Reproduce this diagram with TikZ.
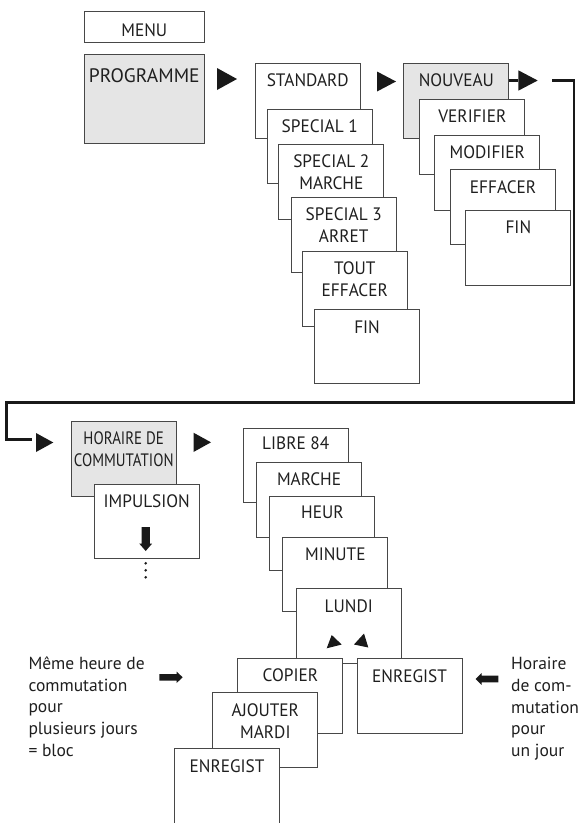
\documentclass[tikz,border=0pt]{standalone}
\usepackage{fontspec}
\setmainfont{PT Sans}
\newfontfamily\labfont[FakeStretch=0.96]{PT Sans}
\newfontfamily\condlabfont[FakeStretch=0.83]{PT Sans}
\begin{document}
\begin{tikzpicture}[x=1pt,y=-1pt,
  box/.style={draw=black!72, line width=1.1pt, fill=white, rectangle, inner sep=0pt, anchor=north west, minimum width=105pt, minimum height=74.5pt},
  graybox/.style={box, fill=black!10},
  lab/.style={inner sep=0pt, anchor=north, align=center, text=black!88, font=\labfont\fontsize{18}{22}\selectfont},
  free/.style={inner sep=0pt, anchor=north west, align=left, text=black!88, font=\fontsize{17.5}{21.7}\selectfont},
  tri/.style={fill=black!90},
  loopline/.style={line width=2.6pt, draw=black!90},
]
\useasboundingbox (0,0) rectangle (579,823);
\clip (0,0) rectangle (579,823);

% MENU / PROGRAMME
\node[box, minimum width=120.5pt, minimum height=31pt] (menu) at (83.5,11) {};
\node[lab, anchor=center] (menut) at ([yshift=-3]menu.center) {MENU};
\node[graybox, minimum width=120.5pt, minimum height=89pt] (prog) at (83.5,54) {};
\node[lab, font=\fontsize{19.5}{22}\selectfont] (progt) at ([yshift=-14.2]prog.north) {PROGRAMME};
\fill[tri] (217,68) -- (217,90) -- (237,79) -- cycle;

% standard stack
\node[box] (std) at (254.7,63.3) {};
\node[lab] (stdt) at ([yshift=-10.6]std.north) {STANDARD};
\node[box] (spa) at (266.7,108.7) {};
\node[lab] (spat) at ([yshift=-10.4]spa.north) {SPECIAL 1};
\node[box] (spb) at (278.3,144.3) {};
\node[lab] (spbt) at ([yshift=-10]spb.north) {SPECIAL 2\\MARCHE};
\node[box] (spc) at (290.7,197.3) {};
\node[lab] (spct) at ([yshift=-10.4]spc.north) {SPECIAL 3\\ARRET};
\node[box] (tout) at (301.7,251.3) {};
\node[lab] (toutt) at ([yshift=-10.4]tout.north) {TOUT\\EFFACER};
\node[box] (fina) at (314,308.8) {};
\node[lab] (finat) at ([yshift=-11.2]fina.north) {FIN};
\fill[tri] (377,71.5) -- (377,91.5) -- (396,81.5) -- cycle;

% nouveau stack
\node[graybox] (nouv) at (403.3,63.3) {};
\node[lab] (nouvt) at ([yshift=-10.2]nouv.north) {NOUVEAU};
\node[box] (ver) at (419.3,99) {};
\node[lab] (vert) at ([yshift=-10.2]ver.north) {VERIFIER};
\node[box] (modif) at (434.3,135) {};
\node[lab] (modift) at ([yshift=-10.2]modif.north) {MODIFIER};
\node[box] (eff) at (450,169) {};
\node[lab] (efft) at ([yshift=-11.2]eff.north) {EFFACER};
\node[box] (finb) at (465.3,210) {};
\node[lab] (finbt) at ([yshift=-10.2]finb.north) {FIN};

% loop connector
\coordinate (tthree) at (518.3,80.5);
\draw[loopline] (tthree -| nouv.east) -- (tthree);
\fill[tri] (518.3,70.3) -- (518.3,90.7) -- (537.7,80.5) -- cycle;
\coordinate (lstart) at (552.3,80.5);
\coordinate (rturn) at (573.8,402.7);
\coordinate (lturn) at (6.7,402.7);
\coordinate (lend) at (31.5,439.3);
\draw[loopline] (lstart) -| (rturn) -- (lturn) |- (lend);
\fill[tri] (36,433) -- (36,452) -- (53.3,442.5) -- cycle;

% horaire
\node[graybox] (hor) at (70.7,421) {};
\node[lab, font=\condlabfont\fontsize{18}{21.7}\selectfont] (hort) at ([yshift=-10.8]hor.north) {HORAIRE DE\\COMMUTATION};
\node[box] (imp) at (93.7,483.7) {};
\node[lab] (impt) at ([yshift=-10.8]imp.north) {IMPULSION};
\fill[tri] (141.6,527) -- (149.8,527) -- (149.8,543.5) -- (152.2,543.5) -- (145.7,551) -- (139.2,543.5) -- (141.6,543.5) -- cycle;
\fill[tri] (145.7,563.3) circle[radius=1.4] (145.7,570.3) circle[radius=1.4] (145.7,577.3) circle[radius=1.4];
\fill[tri] (193.5,432.7) -- (193.5,452) -- (211,442.3) -- cycle;

% libre stack
\node[box] (libre) at (242.7,427.7) {};
\node[lab] (libret) at ([yshift=-9.2]libre.north) {LIBRE 84};
\node[box] (march) at (256,462.3) {};
\node[lab] (marcht) at ([yshift=-10.2]march.north) {MARCHE};
\node[box] (heur) at (269.3,495.7) {};
\node[lab] (heurt) at ([yshift=-10.2]heur.north) {HEUR};
\node[box] (minu) at (282.3,536.7) {};
\node[lab] (minut) at ([yshift=-10.8]minu.north) {MINUTE};
\node[box] (lundi) at (295.7,588.3) {};
\node[lab] (lundit) at ([yshift=-10.9]lundi.north) {LUNDI};
\fill[tri] (326.7,648.3) -- (331.7,635) -- (341.7,644.5) -- cycle;
\fill[tri] (354,644.5) -- (364,633.5) -- (368.3,647.5) -- cycle;

% bottom
\node[box, minimum height=75pt] (copier) at (237.3,658.3) {};
\node[lab] (copiert) at ([yshift=-10.2]copier.north) {COPIER};
\node[box] (ajout) at (212.3,692.3) {};
\node[lab] (ajoutt) at ([yshift=-11.3]ajout.north) {AJOUTER\\MARDI};
\node[box, minimum height=90pt] (enra) at (174,748.3) {};
\node[lab] (enrat) at ([yshift=-10.9]enra.north) {ENREGIST};
\node[box, minimum height=75pt] (enrb) at (356.5,658.3) {};
\node[lab] (enrbt) at ([yshift=-11.2]enrb.north) {ENREGIST};

% side texts and block arrows
\node[free] (lefttxt) at (28.3,656.3) {Même heure de\\commutation\\pour\\plusieurs jours\\= bloc};
\node[free] (righttxt) at (511,657) {Horaire\\de com-\\mutation\\pour\\un jour};
\fill[tri] (159.3,674) -- (176.5,674) -- (176.5,671.5) -- (182.7,677.3) -- (176.5,683.1) -- (176.5,680.6) -- (159.3,680.6) -- cycle;
\fill[tri] (498.3,675.7) -- (481.5,675.7) -- (481.5,673.2) -- (475.7,679) -- (481.5,684.8) -- (481.5,682.3) -- (498.3,682.3) -- cycle;
\end{tikzpicture}
\end{document}
